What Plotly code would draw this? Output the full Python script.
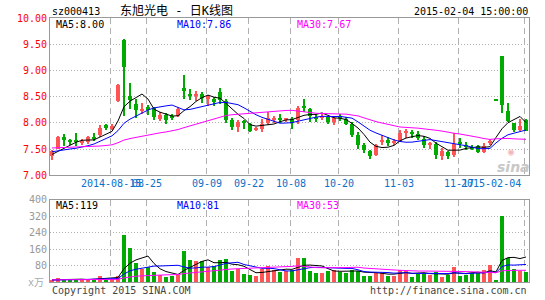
import plotly.graph_objects as go

# ---------------- data ----------------
day_index = list(range(80))  # trading days shown (suspension gap removed)

open_ = [7.36, 7.51, 7.73, 7.66, 7.65, 7.62, 7.64, 7.73, 7.77, 7.95,
         7.89, 8.41, 9.59, 8.52, 8.36, 8.24, 8.30, 8.28, 8.08, 8.15,
         8.12, 8.14, 8.67, 8.54, 8.53, 8.55, 8.46, 8.45, 8.58, 8.42,
         8.05, 7.92, 8.02, 7.97, 7.86, 7.89, 7.99, 8.06, 8.08, 8.07,
         8.07, 8.05, 8.31, 8.27, 8.10, 8.09, 8.11, 8.02, 8.12, 8.08,
         7.97, 7.77, 7.57, 7.47, 7.39, 7.64, 7.67, 7.63, 7.64, 7.81,
         7.81, 7.78, 7.70, 7.58, 7.59, 7.36, 7.44, 7.38, 7.62, 7.57,
         7.54, 7.55, 7.45, 7.61, 8.43, 9.27, 8.22, 7.99, 7.86, 8.05]
high = [7.49, 7.75, 7.78, 7.70, 7.81, 7.70, 7.75, 7.81, 7.95, 7.97,
        7.98, 8.74, 9.60, 8.76, 8.46, 8.38, 8.34, 8.31, 8.20, 8.19,
        8.17, 8.30, 8.91, 8.64, 8.60, 8.58, 8.53, 8.49, 8.66, 8.46,
        8.09, 8.05, 8.05, 7.99, 7.93, 8.07, 8.21, 8.13, 8.16, 8.10,
        8.11, 8.33, 8.46, 8.28, 8.16, 8.18, 8.14, 8.13, 8.16, 8.11,
        8.02, 7.83, 7.61, 7.48, 7.59, 7.77, 7.74, 7.69, 7.86, 7.89,
        7.86, 7.84, 7.75, 7.64, 7.64, 7.52, 7.47, 7.80, 7.72, 7.63,
        7.58, 7.57, 7.61, 7.70, 8.43, 9.28, 8.38, 8.00, 8.08, 8.07]
low = [7.29, 7.50, 7.56, 7.57, 7.56, 7.57, 7.60, 7.66, 7.73, 7.86,
       7.87, 8.40, 8.13, 8.27, 8.09, 8.16, 8.15, 8.05, 8.03, 7.97,
       8.05, 8.11, 8.46, 8.43, 8.41, 8.37, 8.33, 8.33, 8.36, 7.99,
       7.86, 7.83, 7.89, 7.82, 7.84, 7.82, 7.96, 7.99, 7.99, 8.02,
       7.89, 7.97, 8.21, 8.02, 8.02, 8.05, 7.97, 7.96, 8.04, 7.96,
       7.74, 7.50, 7.42, 7.31, 7.36, 7.58, 7.55, 7.57, 7.63, 7.72,
       7.72, 7.67, 7.53, 7.50, 7.31, 7.30, 7.31, 7.34, 7.52, 7.48,
       7.48, 7.42, 7.42, 7.58, 8.43, 8.19, 8.02, 7.83, 7.85, 7.84]
close = [7.47, 7.73, 7.67, 7.64, 7.64, 7.66, 7.73, 7.71, 7.91, 7.90,
         7.94, 8.72, 9.07, 8.44, 8.25, 8.27, 8.24, 8.11, 8.15, 8.05,
         8.10, 8.27, 8.60, 8.53, 8.54, 8.47, 8.51, 8.40, 8.43, 8.05,
         7.92, 8.02, 8.00, 7.84, 7.91, 7.97, 8.09, 8.08, 8.06, 8.08,
         8.00, 8.29, 8.29, 8.14, 8.09, 8.14, 8.02, 8.09, 8.10, 7.97,
         7.77, 7.58, 7.48, 7.36, 7.57, 7.66, 7.61, 7.65, 7.80, 7.83,
         7.79, 7.72, 7.58, 7.60, 7.38, 7.47, 7.36, 7.59, 7.60, 7.55,
         7.52, 7.45, 7.55, 7.66, 8.43, 8.35, 8.03, 7.86, 7.94, 7.85]
volume = [11, 22, 10, 10, 17, 10, 10, 17, 32, 13,
          17, 30, 231, 165, 94, 65, 75, 51, 36, 27,
          32, 36, 150, 108, 103, 103, 75, 79, 108, 113,
          57, 63, 40, 35, 30, 64, 79, 62, 51, 55,
          60, 120, 120, 56, 47, 46, 56, 62, 49, 44,
          59, 54, 33, 33, 46, 46, 33, 33, 59, 57,
          27, 41, 41, 38, 49, 27, 35, 74, 33, 38,
          46, 46, 59, 84, 10, 323, 116, 65, 55, 48]

# closes / volumes of the 29 days before the window (estimated from where the MA lines start)
prior_close = [7.62, 7.58, 7.55, 7.60, 7.57, 7.52, 7.55, 7.58, 7.60, 7.56,
               7.53, 7.55, 7.57, 7.54, 7.52, 7.55, 7.58, 7.56, 7.53, 7.50,
               7.52, 7.50, 7.49, 7.50, 7.49, 7.42, 7.38, 7.36, 7.36]
prior_volume = [12, 10, 9, 11, 13, 10, 8, 12, 11, 9,
                10, 14, 12, 9, 10, 11, 13, 10, 9, 12,
                10, 8, 11, 10, 9, 12, 10, 8, 9]

tick_days = [10, 16, 26, 33, 40, 48, 58, 68, 79]
tick_labels = ["2014-08-15", "08-25", "09-09", "09-22", "10-08", "10-20", "11-03", "11-17", "2015-02-04"]
price_ticks = [10.0, 9.5, 9.0, 8.5, 8.0, 7.5, 7.0]
volume_ticks = [400, 320, 240, 160, 80]
price_legend = ["MA5:8.00", "MA10:7.86", "MA30:7.67"]
volume_legend = ["MA5:119", "MA10:81", "MA30:53"]

# ---------------- styling ----------------
RED = "#ff5555"
GREEN = "#00aa00"
MA_COLORS = ["#000000", "#0000ff", "#ff00ff"]
MONO = "DejaVu Sans Mono, Noto Sans CJK SC, monospace"
W, H = 545, 300
L, R, T, B = 50, 16, 18, 16
PW, PH = W - L - R, H - T - B


def px_x(px):
    return (px - L) / PW


def px_y(py):
    return (T + PH - py) / PH


def moving_average(values, prior, n):
    full = list(prior) + list(values)
    off = len(prior)
    return [sum(full[off + i - n + 1: off + i + 1]) / n for i in range(len(values))]


colors = [RED if c > o else GREEN for o, c in zip(open_, close)]
body_base = [min(o, c) for o, c in zip(open_, close)]
body_h = [max(abs(c - o), 0.02) for o, c in zip(open_, close)]
wick_h = [h - l for h, l in zip(high, low)]

fig = go.Figure()

# wicks
fig.add_trace(go.Bar(x=day_index, y=wick_h, base=low, width=1 / 6,
                     marker=dict(color=colors, line=dict(width=0)),
                     xaxis="x", yaxis="y", hoverinfo="skip"))
# bodies
fig.add_trace(go.Bar(x=day_index, y=body_h, base=body_base, width=4 / 6,
                     marker=dict(color=colors, line=dict(width=0)),
                     xaxis="x", yaxis="y", hoverinfo="skip"))
# price MAs
for n, col in zip([5, 10, 30], MA_COLORS):
    fig.add_trace(go.Scatter(x=day_index, y=moving_average(close, prior_close, n),
                             mode="lines", line=dict(color=col, width=1),
                             xaxis="x", yaxis="y", hoverinfo="skip"))

# volume bars
fig.add_trace(go.Bar(x=day_index, y=volume, width=4.5 / 6,
                     marker=dict(color=colors, line=dict(width=0)),
                     xaxis="x2", yaxis="y2", hoverinfo="skip"))
for n, col in zip([5, 10, 30], MA_COLORS):
    fig.add_trace(go.Scatter(x=day_index, y=moving_average(volume, prior_volume, n),
                             mode="lines", line=dict(color=col, width=1),
                             xaxis="x2", yaxis="y2", hoverinfo="skip"))

grid_x = [d - 0.25 for d in tick_days]
xaxis_common = dict(range=[-1 / 3, 79.5], tickvals=grid_x, showticklabels=False,
                    showgrid=True, gridcolor="#b0b0b0", griddash="6px,4px", gridwidth=1,
                    zeroline=False, showline=True, linecolor="#999999", linewidth=1,
                    mirror=True, ticks="", fixedrange=True)

upper_bottom = px_y(176.5)
lower_top = px_y(201)

fig.update_layout(
    width=W, height=H,
    margin=dict(l=L, r=R, t=T, b=B, pad=0),
    paper_bgcolor="white", plot_bgcolor="white",
    showlegend=False, barmode="overlay", bargap=0,
    font=dict(family=MONO, size=10, color="#000"),
    xaxis=dict(domain=[0, 1], anchor="y", **xaxis_common),
    xaxis2=dict(domain=[0, 1], anchor="y2", matches="x", **xaxis_common),
    yaxis=dict(domain=[upper_bottom, 1], range=[7, 10], tickvals=price_ticks,
               ticktext=["%.2f" % v for v in price_ticks],
               tickfont=dict(family=MONO, size=10, color="#ff0000"),
               showgrid=True, gridcolor="#b0b0b0", griddash="1px,2px", gridwidth=1,
               zeroline=False, showline=True, linecolor="#999999", mirror=True, ticks=""),
    yaxis2=dict(domain=[0, lower_top], range=[0, 400], tickvals=volume_ticks,
                ticktext=[str(v) for v in volume_ticks],
                tickfont=dict(family=MONO, size=10, color="#999999"),
                showgrid=True, gridcolor="#b0b0b0", griddash="1px,2px", gridwidth=1,
                zeroline=False, showline=True, linecolor="#999999", mirror=True, ticks=""),
)

ann = []


def text(s, px, py, anchor="left", color="#000", size=10, **kw):
    ann.append(dict(text=s, x=px_x(px), y=px_y(py), xref="paper", yref="paper",
                    xanchor=anchor, yanchor="middle", showarrow=False,
                    font=dict(family=MONO, size=size, color=color), **kw))


# header
text("sz000413", 50, 11)
text("东旭光电 - 日K线图", 118, 10.5, size=12)
text("2015-02-04 15:00:00", 530, 11, anchor="right")
# legends
for s, px, col in zip(price_legend, [54, 175, 295], MA_COLORS):
    text(s, px, 24.5, color=col)
for s, px, col in zip(volume_legend, [54, 175, 295], MA_COLORS):
    text(s, px, 206.5, color=col)
# x labels
for d, lab in zip(tick_days, tick_labels):
    if lab == tick_labels[-1]:
        text(lab, 523, 185, anchor="right", color="#0a70c8")
    else:
        ann.append(dict(text=lab, x=d - 0.25, y=px_y(185), xref="x", yref="paper",
                        xanchor="center", yanchor="middle", showarrow=False,
                        font=dict(family=MONO, size=10, color="#0a70c8")))
# unit and footer
text("x万", 46, 285, anchor="right", color="#aaaaaa")
text("Copyright 2015 SINA.COM", 50, 293, color="#444444")
text("http://finance.sina.com.cn", 529, 293, anchor="right", color="#444444")
# watermark
text("◉", 511, 153, anchor="center", color="#f2b6b6", size=10)
ann.append(dict(text="<b><i>sina</i></b>", x=px_x(513), y=px_y(168), xref="paper", yref="paper",
                xanchor="center", yanchor="middle", showarrow=False,
                font=dict(family="DejaVu Sans", size=14, color="#c8c8c8")))

fig.update_layout(annotations=ann)

fig.write_html("out.html")
